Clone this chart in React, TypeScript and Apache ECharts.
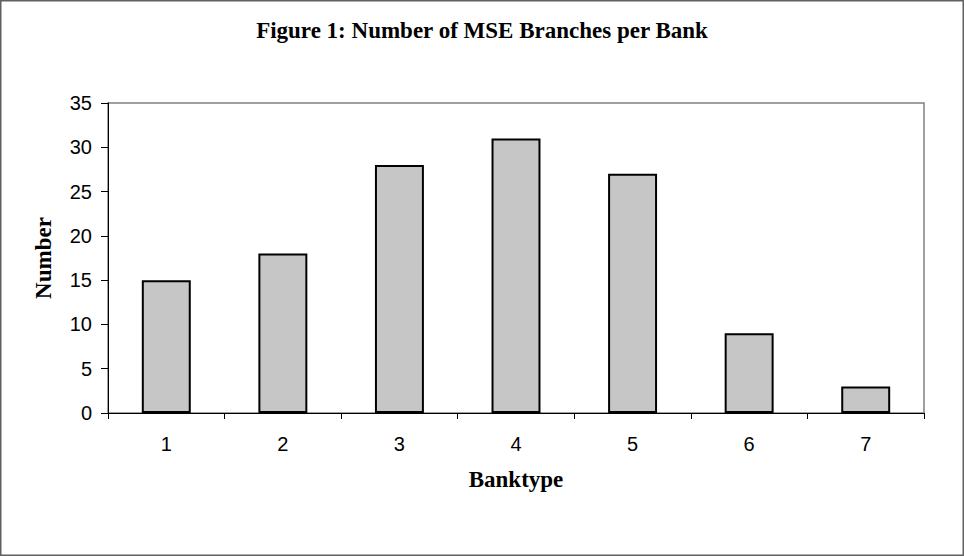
import React, { useEffect, useRef } from "react";
import * as echarts from "echarts";

const categories = ["1", "2", "3", "4", "5", "6", "7"];
const values = [15, 18, 28, 31, 27, 9, 3];
const titleText = "Figure 1: Number of MSE Branches per Bank";
const xName = "Banktype";
const yName = "Number";

export default function App() {
  const ref = useRef<HTMLDivElement>(null);
  useEffect(() => {
    document.body.style.margin = "0";
    const chart = echarts.init(ref.current!, null, { renderer: "svg" });
    chart.setOption({
      animation: false,
      backgroundColor: "#ffffff",
      title: {
        text: titleText,
        left: "center",
        top: 14,
        textStyle: { fontFamily: "Liberation Serif", fontWeight: "bold", fontSize: 23, color: "#000" },
      },
      graphic: [
        {
          type: "rect",
          shape: { x: 0.75, y: 0.75, width: 962.5, height: 554.5 },
          style: { fill: "none", stroke: "#606060", lineWidth: 1.5 },
        },
      ],
      grid: {
        left: 108,
        right: 40,
        top: 103,
        bottom: 143,
        show: true,
        borderColor: "#808080",
        borderWidth: 1.5,
      },
      xAxis: {
        type: "category",
        data: categories,
        name: xName,
        nameLocation: "middle",
        nameGap: 55,
        nameMoveOverlap: false,
        nameTextStyle: { fontFamily: "Liberation Serif", fontWeight: "bold", fontSize: 23, color: "#000" },
        axisLine: { lineStyle: { color: "#000", width: 1 } },
        axisTick: { show: true, length: 6, lineStyle: { color: "#000" } },
        axisLabel: { margin: 21, fontFamily: "Liberation Sans", fontSize: 20, color: "#000" },
      },
      yAxis: {
        type: "value",
        min: 0,
        max: 35,
        interval: 5,
        name: yName,
        nameLocation: "middle",
        nameGap: 53,
        nameRotate: 90,
        nameMoveOverlap: false,
        nameTextStyle: { fontFamily: "Liberation Serif", fontWeight: "bold", fontSize: 23, color: "#000" },
        axisLine: { show: true, lineStyle: { color: "#000", width: 1 } },
        axisTick: { show: true, length: 7, lineStyle: { color: "#000" } },
        axisLabel: { margin: 16, fontFamily: "Liberation Sans", fontSize: 20, color: "#000" },
        splitLine: { show: false },
      },
      series: [
        {
          type: "bar",
          data: values,
          barWidth: "42%",
          itemStyle: { color: "#c6c6c6", borderColor: "#000", borderWidth: 2 },
        },
      ],
    });
    return () => chart.dispose();
  }, []);
  return <div ref={ref} style={{ width: 964, height: 556 }} />;
}
